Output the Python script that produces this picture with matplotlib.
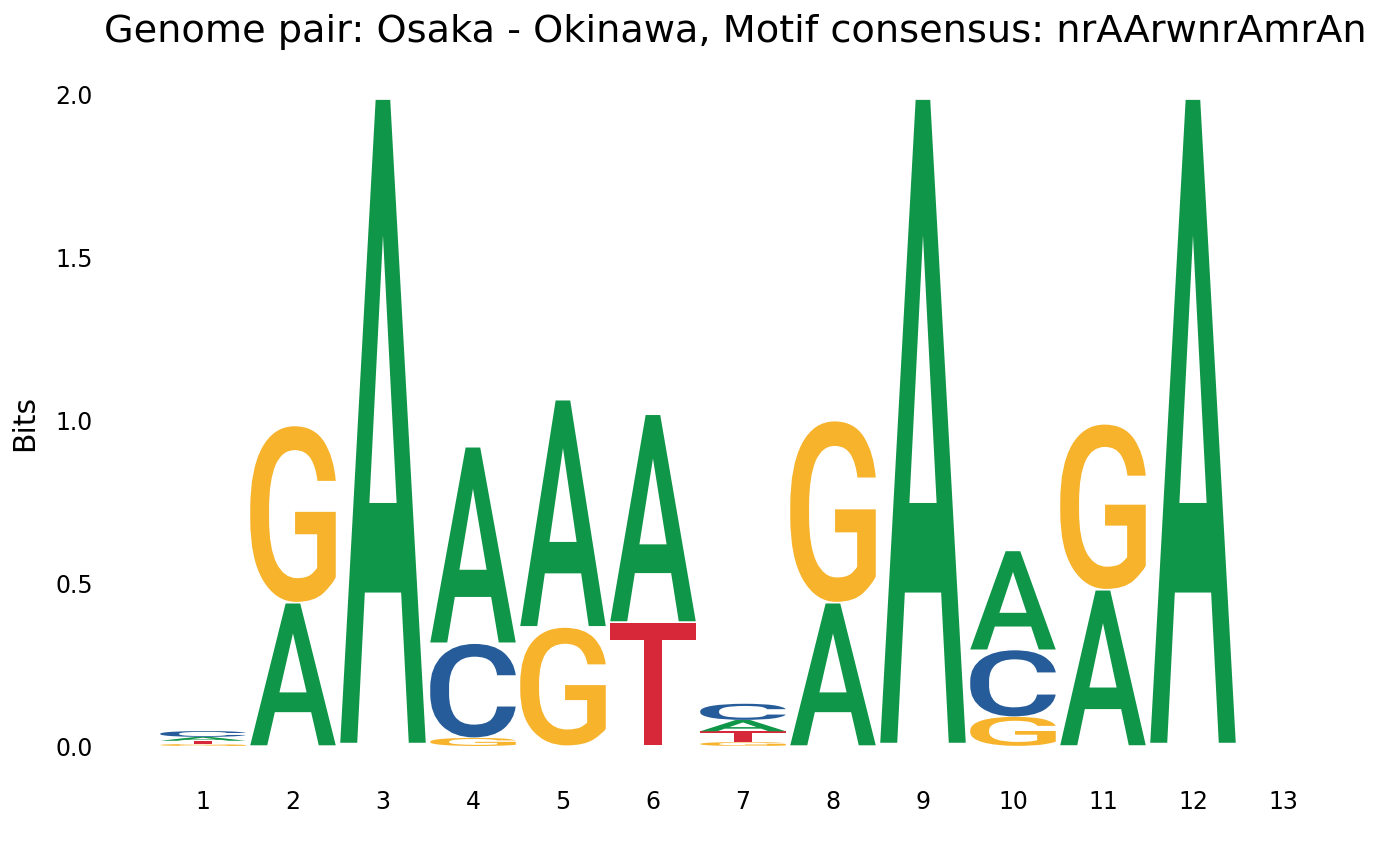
import matplotlib
matplotlib.use('Agg')
import matplotlib.pyplot as plt
from matplotlib.textpath import TextPath
from matplotlib.font_manager import FontProperties
from matplotlib.patches import PathPatch
from matplotlib.transforms import Affine2D

# ---- data (information content in bits per letter, per position) ----
positions = list(range(1, 14))
letters = ['A', 'C', 'G', 'T']
heights_A = [0.012, 0.44, 1.995, 0.605, 0.70, 0.64, 0.035, 0.44, 1.995, 0.305, 0.48, 1.995, 0.0]
heights_C = [0.018, 0.0, 0.0, 0.29, 0.0, 0.0, 0.05, 0.0, 0.0, 0.205, 0.0, 0.0, 0.0]
heights_G = [0.006, 0.545, 0.0, 0.025, 0.365, 0.0, 0.012, 0.56, 0.0, 0.09, 0.51, 0.0, 0.0]
heights_T = [0.01, 0.0, 0.0, 0.0, 0.0, 0.38, 0.033, 0.0, 0.0, 0.0, 0.0, 0.0, 0.0]
yticks = [0.0, 0.5, 1.0, 1.5, 2.0]
title = "Genome pair: Osaka - Okinawa, Motif consensus: nrAArwnrAmrAn"

colors = {'A': '#109648', 'C': '#255C99', 'G': '#F7B32B', 'T': '#D62839'}
heights = {'A': heights_A, 'C': heights_C, 'G': heights_G, 'T': heights_T}

fig = plt.figure(figsize=(14, 8.65), dpi=100)
ax = fig.add_axes([158 / 1400, 1 - 746 / 865, 1170 / 1400, (746 - 95) / 865])

fp = FontProperties(family='Roboto', weight='medium')
glyph_w = 0.95
vpad = 0.01


def draw_glyph(ch, x, bottom, h, color):
    path = TextPath((0, 0), ch, size=1, prop=fp)
    ext = path.get_extents()
    gh = h * (1 - vpad)
    tr = (Affine2D()
          .translate(-ext.x0, -ext.y0)
          .scale(glyph_w / ext.width, gh / ext.height)
          .translate(x - glyph_w / 2, bottom + h * vpad / 2))
    patch = PathPatch(tr.transform_path(path), facecolor=color,
                      edgecolor='none', lw=0)
    ax.add_patch(patch)


for i, pos in enumerate(positions):
    vals = [(heights[l][i], l) for l in letters if heights[l][i] > 0]
    vals.sort()
    bottom = 0.0
    for h, l in vals:
        draw_glyph(l, pos, bottom, h, colors[l])
        bottom += h

ax.set_xlim(0.5, 13.5)
ax.set_ylim(0, 2.0)
ax.set_xticks(positions)
ax.set_xticklabels([str(p) for p in positions])
ax.set_yticks(yticks)
ax.set_yticklabels([f"{v:.1f}" for v in yticks])
for s in ax.spines.values():
    s.set_visible(False)
ax.tick_params(axis='x', length=0, pad=32, labelsize=17)
ax.tick_params(axis='y', length=0, pad=47, labelsize=17)

fig.text(25 / 1400, 1 - 423 / 865, 'Bits', rotation=90, ha='center',
         va='center', fontsize=21.5)
fig.text(735 / 1400, 1 - 32 / 865, title, ha='center', va='center',
         fontsize=27.5)

fig.savefig('out.png', dpi=100)
